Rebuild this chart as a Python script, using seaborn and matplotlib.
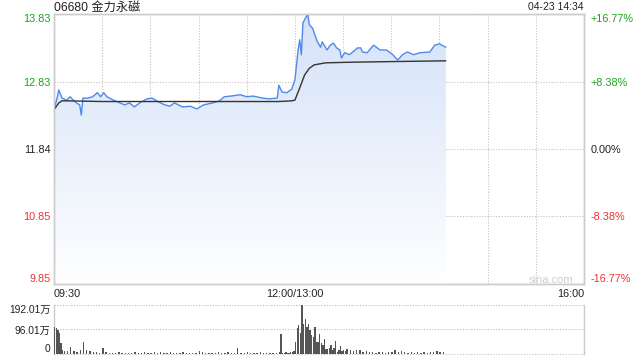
import numpy as np
import pandas as pd
import matplotlib
matplotlib.use("Agg")
import matplotlib.pyplot as plt
import seaborn as sns
from matplotlib.colors import LinearSegmentedColormap

# ---------------- data ----------------
title = "06680 金力永磁"
stamp = "04-23 14:34"
watermark = "sina.com"

price_min = [0, 2, 3, 5, 8, 10, 12, 14, 16, 17, 18, 21, 24, 27, 29, 31, 33, 37, 41, 44,
             47, 50, 54, 58, 61, 64, 68, 72, 75, 80, 85, 89, 93, 99, 103, 106, 110, 116,
             120, 124, 130, 134, 139, 140, 142, 145, 148, 150, 152, 153, 154, 155, 158,
             159, 161, 164, 166, 167, 170, 172, 174, 176, 178, 179, 181, 184, 186, 189,
             191, 192, 195, 199, 203, 207, 211, 214, 217, 220, 224, 228, 234, 237, 240, 244]
price = [12.42, 12.60, 12.71, 12.59, 12.56, 12.61, 12.56, 12.52, 12.49, 12.34, 12.59, 12.59,
         12.61, 12.67, 12.61, 12.67, 12.61, 12.56, 12.52, 12.49, 12.52, 12.46, 12.53, 12.58,
         12.59, 12.55, 12.50, 12.47, 12.52, 12.46, 12.47, 12.43, 12.49, 12.52, 12.55, 12.61,
         12.62, 12.64, 12.61, 12.62, 12.59, 12.58, 12.59, 12.78, 12.68, 12.67, 12.72, 12.86,
         13.30, 13.45, 13.23, 13.70, 13.83, 13.67, 13.62, 13.42, 13.34, 13.42, 13.30, 13.37,
         13.40, 13.33, 13.30, 13.18, 13.26, 13.23, 13.27, 13.33, 13.33, 13.27, 13.26, 13.37,
         13.30, 13.30, 13.23, 13.15, 13.23, 13.27, 13.23, 13.26, 13.27, 13.37, 13.39, 13.34]

avg_min = [0, 3, 5, 8, 30, 60, 100, 140, 148, 150, 153, 156, 159, 162, 169, 186, 244]
avg_price = [12.42, 12.52, 12.55, 12.55, 12.54, 12.54, 12.54, 12.54, 12.55, 12.56,
             12.74, 12.93, 13.03, 13.08, 13.11, 13.12, 13.14]

vol_min = [0, 1, 2, 3, 4, 5, 6, 8, 10, 12, 14, 16, 18, 20, 22, 24, 26, 28, 30, 32, 34, 36,
           38, 40, 42, 44, 46, 48, 50, 52, 54, 56, 58, 60, 62, 64, 66, 68, 70, 72, 74, 76,
           78, 80, 82, 84, 86, 88, 90, 92, 94, 96, 98, 100, 102, 104, 106, 108, 110, 112,
           114, 116, 118, 120, 122, 124, 126, 128, 130, 132, 134, 136, 138, 140,
           141, 142, 143, 144, 145, 146, 147, 148, 149, 150, 151, 152, 153, 154, 155, 156,
           157, 158, 159, 160, 161, 162, 163, 164, 165, 166, 167, 168, 169, 170, 171, 172,
           173, 174, 175, 176, 177, 178, 179, 180, 181, 182,
           184, 186, 188, 190, 192, 194, 196, 198, 200, 202, 204, 206, 208, 210, 212, 214,
           216, 218, 220, 222, 224, 226, 228, 230, 232, 234, 236, 238, 240, 242]
vol = [106, 102, 94, 82, 43, 15, 12, 10, 27, 12, 9, 14, 47, 15, 10, 8, 6, 5, 23, 6, 4, 5,
       4, 6, 5, 3, 5, 4, 8, 5, 4, 6, 3, 5, 8, 4, 6, 5, 4, 6, 3, 5,
       4, 6, 5, 4, 3, 5, 13, 6, 4, 3, 5, 4, 6, 5, 4, 6, 5, 4,
       23, 5, 4, 6, 3, 5, 4, 6, 4, 5, 3, 5, 4, 6,
       78, 5, 4, 6, 5, 4, 6, 8, 10, 47, 102, 114, 82, 192, 118, 137,
       106, 118, 94, 74, 67, 106, 47, 47, 78, 43, 35, 59, 20, 20, 23, 35,
       16, 25, 51, 8, 14, 31, 10, 16, 12, 20,
       14, 10, 16, 14, 8, 10, 6, 8, 5, 7, 6, 5, 8, 6, 14, 8,
       12, 6, 5, 7, 5, 6, 4, 6, 5, 7, 6, 10, 8, 6]

y_ticks = [9.85, 10.85, 11.84, 12.83, 13.83]
y_labels = ["9.85", "10.85", "11.84", "12.83", "13.83"]
pct_labels = ["-16.77%", "-8.38%", "0.00%", "+8.38%", "+16.77%"]
x_ticks = [0, 150, 330]
x_labels = ["09:30", "12:00/13:00", "16:00"]
vol_ticks = [0, 96.01, 192.01]
vol_labels = ["0", "96.01万", "192.01万"]

# ---------------- style ----------------
sns.set_theme(style="white")
plt.rcParams["font.family"] = ["Liberation Sans", "Noto Sans CJK SC", "DejaVu Sans"]

RED = "#f23030"
GREEN = "#1aa31a"
DARK = "#222222"
tick_colors = [RED, RED, DARK, GREEN, GREEN]
GRID = "#c0c0c0"
SPINE = "#cccccc"

fig = plt.figure(figsize=(6.4, 3.6), dpi=100)
W, H = 640, 360
ax = fig.add_axes([54 / W, 1 - 284 / H, 530 / W, 270 / H])
axv = fig.add_axes([54 / W, 1 - 354 / H, 530 / W, 49 / H])

df = pd.DataFrame({"t": price_min, "p": price})
dfa = pd.DataFrame({"t": avg_min, "p": avg_price})

# gradient area under price
poly = ax.fill_between(df["t"], df["p"], y_ticks[0], color="none", lw=0)
grad = np.linspace(0, 1, 256).reshape(-1, 1)
cmap = LinearSegmentedColormap.from_list("g", ["#ffffff", "#d4e2f8"])
im = ax.imshow(grad, extent=[min(price_min), max(price_min), y_ticks[0], y_ticks[-1]],
               origin="lower", aspect="auto", cmap=cmap, zorder=1)
im.set_clip_path(poly.get_paths()[0], transform=ax.transData)

sns.lineplot(data=df, x="t", y="p", ax=ax, color="#5089ec", lw=1.0, zorder=4)
sns.lineplot(data=dfa, x="t", y="p", ax=ax, color="#333333", lw=1.0, zorder=5)

ax.set_xlim(0, 330)
ax.set_ylim(y_ticks[0], y_ticks[-1])
ax.set_xlabel("")
ax.set_ylabel("")
ax.set_xticks(x_ticks)
ax.set_xticklabels(x_labels)
ax.set_xticks(list(range(0, 331, 30)), minor=True)
ax.set_yticks(y_ticks)
ax.set_yticklabels(y_labels)
ax.grid(True, which="both", axis="x", ls=(0, (1, 1.5)), color=GRID, lw=0.8, zorder=2)
ax.grid(True, which="major", axis="y", ls=(0, (1, 1.5)), color=GRID, lw=0.8, zorder=2)
ax.tick_params(axis="both", which="both", length=0, labelsize=7.8)
ax.tick_params(axis="y", pad=2.5)
ax.tick_params(axis="x", pad=3.5)
xl = ax.get_xticklabels()
xl[0].set_ha("left")
xl[-1].set_ha("right")
for lab in xl:
    lab.set_color(DARK)
yl = ax.get_yticklabels()
for lab, c in zip(yl, tick_colors):
    lab.set_color(c)
yl[0].set_va("bottom")
yl[-1].set_va("top")
for sp in ax.spines.values():
    sp.set_color(SPINE)
    sp.set_linewidth(1.0)

ax2 = ax.twinx()
ax2.set_ylim(y_ticks[0], y_ticks[-1])
ax2.set_yticks(y_ticks)
ax2.set_yticklabels(pct_labels)
ax2.tick_params(axis="y", length=0, labelsize=7.8, pad=4.5)
rl = ax2.get_yticklabels()
for lab, c in zip(rl, tick_colors):
    lab.set_color(c)
rl[0].set_va("bottom")
rl[-1].set_va("top")
for sp in ax2.spines.values():
    sp.set_color(SPINE)
    sp.set_linewidth(1.0)
ax2.grid(False)

ax.text(0.979, 0.016, watermark, transform=ax.transAxes, ha="right", va="center",
        fontsize=8, color="#cfcfcf", zorder=6)

# ---------------- volume ----------------
axv.bar(vol_min, vol, width=0.85, align="edge", color="#555555", lw=0, zorder=3)
axv.set_xlim(0, 330)
axv.set_ylim(0, vol_ticks[-1])
axv.set_xticks([])
axv.set_yticks(vol_ticks)
axv.set_yticklabels(vol_labels)
axv.tick_params(axis="y", length=0, labelsize=7.4, pad=2.5)
vl = axv.get_yticklabels()
for lab in vl:
    lab.set_color(DARK)
vl[0].set_va("bottom")
vl[-1].set_va("top")
axv.grid(True, axis="y", ls=(0, (1, 1.5)), color=GRID, lw=0.8, zorder=1)
for gl in axv.get_ygridlines():
    gl.set_clip_on(False)
axv.spines["top"].set_visible(False)
axv.spines["bottom"].set_visible(False)
for s in ("left", "right"):
    axv.spines[s].set_color(SPINE)
    axv.spines[s].set_linewidth(1.0)

fig.text(54 / W, 1 - 7.5 / H, title, ha="left", va="center", fontsize=8.8, color=DARK)
fig.text(584 / W, 1 - 7.5 / H, stamp, ha="right", va="center", fontsize=7.5, color=DARK)

fig.savefig("out.png", dpi=100)
